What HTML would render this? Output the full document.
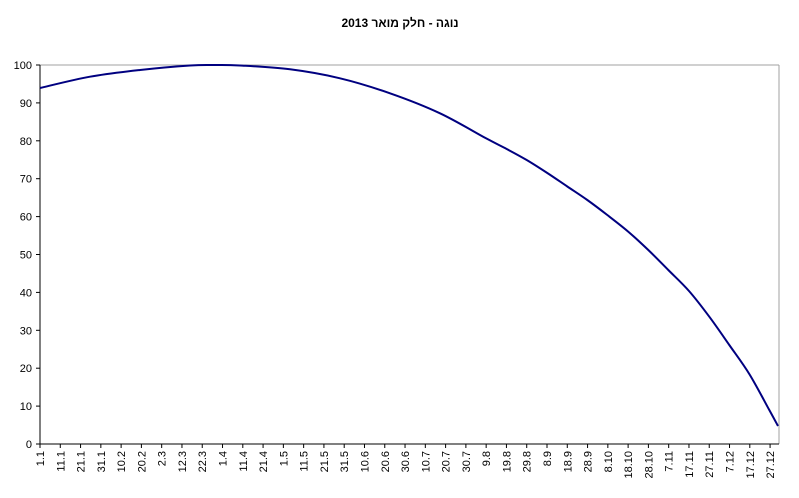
<!DOCTYPE html>
<html><head><meta charset="utf-8"><style>
body{margin:0;background:#fff;}
svg text{font-family:"Liberation Sans",Arial,sans-serif;font-size:11px;fill:#000;}
</style></head><body>
<svg id="s" width="799" height="493" xmlns="http://www.w3.org/2000/svg">
<text x="400" y="27" text-anchor="middle" style="font-size:12px;font-weight:bold">נוגה - חלק מואר 2013</text>
<line x1="40" y1="65" x2="779" y2="65" stroke="#a0a0a0"/>
<line x1="779" y1="65" x2="779" y2="444" stroke="#a0a0a0"/>
<line x1="40" y1="65" x2="40" y2="444" stroke="#000"/>
<line x1="40" y1="444" x2="779" y2="444" stroke="#000"/>
<g id="yt"></g><g id="xt"></g>
<path id="c" fill="none" stroke="#000080" stroke-width="2"/>
</svg>
<script>
var ns="http://www.w3.org/2000/svg",yt=document.getElementById('yt'),xt=document.getElementById('xt');
function el(n,a,p,t){var e=document.createElementNS(ns,n);for(var k in a)e.setAttribute(k,a[k]);if(t)e.textContent=t;p.appendChild(e);return e;}
for(var i=0;i<=10;i++){var y=444-i*37.9;el('line',{x1:36,x2:40,y1:y,y2:y,stroke:'#000'},yt);el('text',{x:32,y:y+4,'text-anchor':'end'},yt,String(i*10));}
var labs="1.1 11.1 21.1 31.1 10.2 20.2 2.3 12.3 22.3 1.4 11.4 21.4 1.5 11.5 21.5 31.5 10.6 20.6 30.6 10.7 20.7 30.7 9.8 19.8 29.8 8.9 18.9 28.9 8.10 18.10 28.10 7.11 17.11 27.11 7.12 17.12 27.12".split(' ');
labs.forEach(function(l,i){var x=40+i*10*2.028;el('line',{x1:x,x2:x,y1:444,y2:448,stroke:'#000'},xt);el('text',{x:0,y:0,'text-anchor':'end',transform:'translate('+(x+4)+',451) rotate(-90)'},xt,l);});
var P=[[40,88],[90,76.7],[140,70],[190,65.5],[215,65],[240,65.5],[290,69.3],[340,78.3],[390,93.3],[440,113.3],[486,138.3],[506.7,149],[526.7,160],[547.3,173],[567.3,186.5],[587.3,200],[607.3,215],[628.3,231.7],[648.3,250],[668.3,270],[689,291],[709.3,316.7],[729.3,345],[749.3,374],[769.3,410],[778,426]];
var d="M"+P[0][0]+","+P[0][1];
for(var i=0;i<P.length-1;i++){var p0=P[Math.max(0,i-1)],p1=P[i],p2=P[i+1],p3=P[Math.min(P.length-1,i+2)];
d+=" C"+(p1[0]+(p2[0]-p0[0])/6)+","+(p1[1]+(p2[1]-p0[1])/6)+" "+(p2[0]-(p3[0]-p1[0])/6)+","+(p2[1]-(p3[1]-p1[1])/6)+" "+p2[0]+","+p2[1];}
document.getElementById('c').setAttribute('d',d);
</script>
</body></html>
